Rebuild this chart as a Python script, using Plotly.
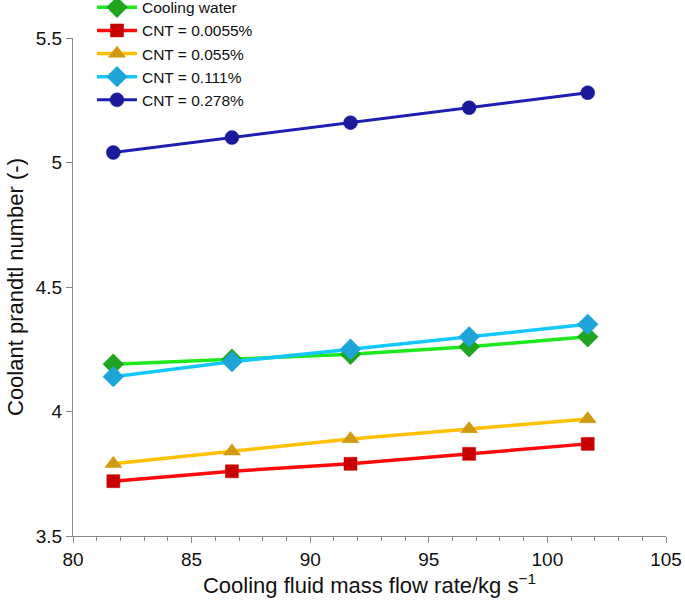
import plotly.graph_objects as go

flow_rate = [81.7, 86.7, 91.7, 96.7, 101.7]
cooling_water = [4.19, 4.21, 4.23, 4.26, 4.30]
cnt_00055 = [3.72, 3.76, 3.79, 3.83, 3.87]
cnt_0055 = [3.79, 3.84, 3.89, 3.93, 3.97]
cnt_0111 = [4.14, 4.20, 4.25, 4.30, 4.35]
cnt_0278 = [5.04, 5.10, 5.16, 5.22, 5.28]

series = [
    ("Cooling water", cooling_water, "#1ee81e", "#1fa51f", "diamond", 16, 3.5),
    ("CNT = 0.0055%", cnt_00055, "#ff0a0a", "#c80000", "square", 13, 3.5),
    ("CNT = 0.055%", cnt_0055, "#ffc000", "#d09a10", "triangle-up", 15, 3.5),
    ("CNT = 0.111%", cnt_0111, "#14c8ff", "#1ea5d8", "diamond", 16, 3.5),
    ("CNT = 0.278%", cnt_0278, "#1e1eb4", "#1a1a9a", "circle", 14, 3),
]

fig = go.Figure()
for name, ys, lc, mc, sym, sz, lw in series:
    fig.add_trace(go.Scatter(
        x=flow_rate, y=ys, name=name, mode="lines+markers",
        line=dict(color=lc, width=lw),
        marker=dict(symbol=sym, size=sz, color=mc, line=dict(color=mc, width=0.5)),
    ))

axis_font = dict(family="Liberation Sans, Arial, sans-serif", size=19, color="#111")
fig.update_layout(
    width=685, height=602,
    margin=dict(l=73, r=19, t=38, b=66, autoexpand=False),
    plot_bgcolor="white", paper_bgcolor="white",
    font=dict(family="Liberation Sans, Arial, sans-serif", color="#111"),
    showlegend=True,
    legend=dict(x=0.032, y=1.095, xanchor="left", yanchor="top",
                bgcolor="rgba(0,0,0,0)", font=dict(size=15.5),
                tracegroupgap=0, itemwidth=40),
    xaxis=dict(range=[80, 105], tickvals=[80, 85, 90, 95, 100, 105],
               ticks="outside", ticklen=6, tickcolor="#888",
               showline=True, linecolor="#888", linewidth=1,
               showgrid=False, zeroline=False, tickfont=axis_font,
               automargin=False,
               minor=dict(dtick=1, ticks="outside", ticklen=4, tickcolor="#888"),
               title=dict(text="Cooling fluid mass flow rate/kg s<sup>−1</sup>",
                          font=dict(size=22), standoff=6)),
    yaxis=dict(range=[3.5, 5.5], tickvals=[3.5, 4, 4.5, 5, 5.5],
               ticktext=["3.5", "4", "4.5", "5", "5.5"],
               ticks="outside", ticklen=6, tickcolor="#888",
               showline=True, linecolor="#888", linewidth=1,
               showgrid=False, zeroline=False, tickfont=axis_font,
               automargin=False,
               title=dict(text="Coolant prandtl number (-)",
                          font=dict(size=22), standoff=6)),
)

fig.write_html("out.html", config={"displayModeBar": False},
               post_script="document.body.style.margin='0';document.body.style.overflow='hidden';")
